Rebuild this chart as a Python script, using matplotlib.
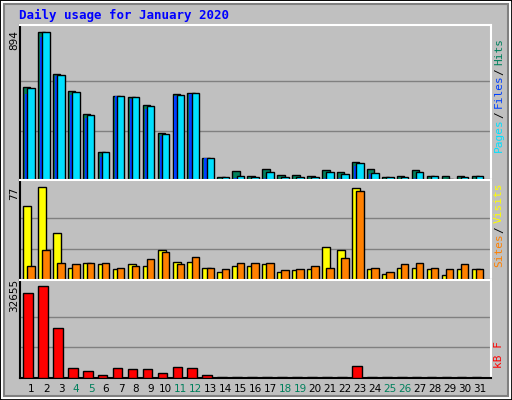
import matplotlib
matplotlib.use("Agg")
import matplotlib.pyplot as plt
from matplotlib.patches import Rectangle

days = list(range(1, 32))
hits = [561, 894, 643, 537, 397, 172, 507, 501, 452, 282, 521, 527, 130, 16, 57, 26, 65, 32, 32, 26, 59, 47, 111, 65, 16, 22, 59, 22, 22, 22, 26]
files = [517, 862, 628, 513, 375, 136, 507, 487, 430, 264, 507, 519, 130, 4, 10, 6, 10, 4, 4, 6, 10, 10, 87, 34, 4, 6, 10, 4, 4, 6, 6]
pages = [555, 894, 635, 531, 391, 172, 507, 501, 446, 276, 513, 527, 130, 16, 26, 20, 51, 16, 16, 20, 51, 39, 105, 45, 16, 16, 51, 22, 4, 20, 26]
visits = [61, 77, 39, 10, 14, 13, 9, 13, 12, 25, 15, 15, 10, 7, 12, 12, 13, 7, 8, 9, 27, 25, 76, 9, 5, 10, 10, 9, 4, 9, 9]
sites = [12, 25, 14, 13, 14, 14, 10, 12, 17, 23, 13, 19, 10, 9, 14, 14, 14, 8, 9, 12, 10, 18, 74, 10, 7, 13, 14, 10, 9, 13, 9]
kbytes = [30150, 32655, 17640, 3690, 2620, 1190, 3690, 3340, 3340, 1900, 4050, 3690, 1190, 250, 250, 250, 250, 250, 250, 250, 250, 250, 4410, 250, 250, 250, 250, 250, 250, 250, 250]
weekends = [4, 5, 11, 12, 18, 19, 25, 26]

W, H = 512, 400
fig = plt.figure(figsize=(W/100, H/100), dpi=100)
fig.patch.set_facecolor('#c0c0c0')
fig.add_artist(Rectangle((0, 0), 1, 1, transform=fig.transFigure, fill=False, edgecolor='black', lw=2))
fig.add_artist(Rectangle((2/W, 2/H), 1-4/W, 1-4/H, transform=fig.transFigure, fill=False, edgecolor='white', lw=1.5))
fig.add_artist(Rectangle((4/W, 4/H), 1-8/W, 1-8/H, transform=fig.transFigure, fill=False, edgecolor='#808080', lw=1.5))

mono = 'DejaVu Sans Mono'
fig.text(19/W, 1-15/H, 'Daily usage for January 2020', color='#0000ff', fontsize=9,
         fontweight='bold', family=mono, va='center', ha='left')

L, R = 20, 491
def mkax(top, bot):
    ax = fig.add_axes([L/W, 1-bot/H, (R-L)/W, (bot-top)/H])
    ax.set_facecolor('#c0c0c0')
    ax.set_xlim(0.25, 31.75)
    ax.set_xticks([])
    ax.set_yticks([])
    for s in ax.spines.values():
        s.set_linewidth(1.5)
    ax.spines['top'].set_color('white'); ax.spines['right'].set_color('white')
    ax.spines['left'].set_color('black'); ax.spines['bottom'].set_color('black')
    return ax

kw = dict(edgecolor='black', linewidth=1, align='edge', zorder=3)

ax1 = mkax(25, 180)
ax1.set_ylim(0, 894 * 155 / 148)
for g in (894/3, 894*2/3):
    ax1.axhline(g, color='#808080', lw=1, zorder=1)
x = [d - 0.55 for d in days]
ax1.bar(x, hits, width=0.5, color='#00805c', **kw)
ax1.bar([d - 0.42 for d in days], files, width=0.15, color='#0040ff', edgecolor='#0040ff', linewidth=0, align='edge', zorder=4)
ax1.bar([d - 0.27 for d in days], pages, width=0.5, color='#00e0ff', edgecolor='black', linewidth=1, align='edge', zorder=5)

ax2 = mkax(180, 280)
ax2.set_ylim(0, 77 * 100 / 93)
for g in (77/3, 77*2/3):
    ax2.axhline(g, color='#808080', lw=1, zorder=1)
ax2.bar(x, visits, width=0.55, color='#ffff00', **kw)
ax2.bar([d - 0.27 for d in days], sites, width=0.5, color='#ff8000', edgecolor='black', linewidth=1, align='edge', zorder=4)

ax3 = mkax(280, 378)
ax3.set_ylim(0, 32655 * 98 / 92)
for g in (32655/3, 32655*2/3):
    ax3.axhline(g, color='#808080', lw=1, zorder=1)
ax3.bar([d - 0.55 for d in days], kbytes, width=0.65, color='#ff0000', **kw)

for d in days:
    xf = (L + (d - 0.25) / 31.5 * (R - L)) / W
    fig.text(xf, 1-389/H, str(d), ha='center', va='center', fontsize=7.5,
             color='#00805c' if d in weekends else 'black')

for val, yc in (('894', 40), ('77', 193), ('32655', 295)):
    fig.text(14/W, 1-yc/H, val, rotation=90, ha='center', va='center', fontsize=7.5, color='black')

def rlabel(parts, ycenter):
    import matplotlib.offsetbox as ob
    boxes = [ob.TextArea(t, textprops=dict(color=c, family=mono, fontsize=8, rotation=90))
             for t, c in parts]
    pk = ob.VPacker(children=boxes[::-1], align='center', pad=0, sep=0)
    ab = ob.AnchoredOffsetbox(loc='center', child=pk, frameon=False,
                              bbox_to_anchor=(499/W, 1-ycenter/H), bbox_transform=fig.transFigure, pad=0, borderpad=0)
    fig.add_artist(ab)

rlabel([('Pages', '#00e0ff'), ('/', '#000000'), ('Files', '#0040ff'), ('/', '#000000'), ('Hits', '#00805c')], 95)
rlabel([('Sites', '#ff8000'), ('/', '#000000'), ('Visits', '#ffff00')], 225)
rlabel([('kB F', '#ff0000')], 355)

fig.savefig('out.png', dpi=100, facecolor=fig.get_facecolor())
